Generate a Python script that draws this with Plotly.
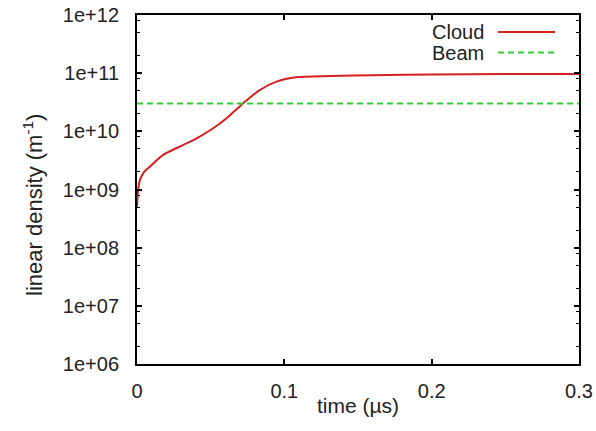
import plotly.graph_objects as go

# Electron cloud build-up: linear density versus time
time_us = [0.0, 0.0005, 0.001, 0.002, 0.0045, 0.0088, 0.0178, 0.029, 0.0405,
           0.0517, 0.0608, 0.0721, 0.0834, 0.0947, 0.108, 0.131, 0.16, 0.2, 0.25, 0.3]
cloud_density = [5.0e8, 8.0e8, 1.1e9, 1.46e9, 1.95e9, 2.48e9, 3.94e9, 5.47e9, 7.6e9,
                 1.13e10, 1.68e10, 3.04e10, 5.14e10, 7.14e10, 8.5e10, 8.95e10,
                 9.2e10, 9.5e10, 9.65e10, 9.7e10]

beam_time = [0.0, 0.3]
beam_density = [3.0e10, 3.0e10]

x_ticks = [0.0, 0.1, 0.2, 0.3]
x_ticktext = ["0", "0.1", "0.2", "0.3"]
y_ticks = [1e6, 1e7, 1e8, 1e9, 1e10, 1e11, 1e12]
y_ticktext = ["1e+06", "1e+07", "1e+08", "1e+09", "1e+10", "1e+11", "1e+12"]
y_minor = [m * 10 ** e for e in range(6, 12) for m in (2, 5, 8)]

legend_names = ["Cloud", "Beam"]

RED = "#d42020"
GREEN = "#33cc33"
FAMILY = "Liberation Sans, Arial, sans-serif"
FONT = dict(family=FAMILY, size=20, color="#222222")
XTITLE_FONT = dict(family=FAMILY, size=21, color="#222222")
YTITLE_FONT = dict(family=FAMILY, size=22, color="#222222")

W, H = 596, 431
L, R, T, B = 137, 17, 15, 67
pw, ph = W - L - R, H - T - B


def px_x(x):
    return (x - L) / pw


def px_y(y):
    return (H - B - y) / ph


fig = go.Figure()
fig.add_trace(go.Scatter(x=time_us, y=cloud_density, mode="lines", name=legend_names[0],
                         line=dict(color=RED, width=2, shape="spline", smoothing=0.8)))
fig.add_trace(go.Scatter(x=beam_time, y=beam_density, mode="lines", name=legend_names[1],
                         line=dict(color=GREEN, width=2, dash="6px,4px")))

# key drawn gnuplot-style: text on the left, line sample on the right
annotations = []
shapes = []
for i, (name, color, dash) in enumerate(zip(legend_names, [RED, GREEN], ["solid", "6px,4px"])):
    yy = 32 + i * 20.5
    annotations.append(dict(text=name, xref="paper", yref="paper", x=px_x(486), y=px_y(yy),
                            xanchor="right", yanchor="middle", showarrow=False, font=FONT))
    shapes.append(dict(type="line", xref="paper", yref="paper", x0=px_x(498), x1=px_x(555),
                       y0=px_y(yy), y1=px_y(yy), line=dict(color=color, width=2, dash=dash)))

# axis titles placed as annotations so the plot frame stays fixed
annotations.append(dict(text="time (µs)", xref="paper", yref="paper", x=0.5, y=px_y(405),
                        xanchor="center", yanchor="middle", showarrow=False, font=XTITLE_FONT))
annotations.append(dict(text="linear density (m<sup>-1</sup>)", xref="paper", yref="paper",
                        x=px_x(33), y=px_y(205), xanchor="center", yanchor="middle",
                        textangle=-90, showarrow=False, font=YTITLE_FONT))

fig.update_layout(
    width=W, height=H,
    margin=dict(l=L, r=R, t=T, b=B, autoexpand=False),
    paper_bgcolor="white", plot_bgcolor="white",
    showlegend=False,
    font=FONT,
    annotations=annotations,
    shapes=shapes,
    xaxis=dict(
        range=[0, 0.3], tickmode="array", tickvals=x_ticks, ticktext=x_ticktext,
        ticks="inside", ticklen=5, tickwidth=1.5, tickcolor="black",
        showline=True, linecolor="black", linewidth=2, mirror="allticks",
        showgrid=False, zeroline=False, ticklabelstandoff=8, automargin=False,
        tickfont=FONT,
    ),
    yaxis=dict(
        type="log", range=[6, 12], tickmode="array", tickvals=y_ticks, ticktext=y_ticktext,
        ticks="inside", ticklen=5, tickwidth=1.5, tickcolor="black",
        minor=dict(tickmode="array", tickvals=y_minor, ticks="inside", ticklen=3,
                   tickwidth=1.2, tickcolor="black", showgrid=False),
        showline=True, linecolor="black", linewidth=2, mirror="allticks",
        showgrid=False, zeroline=False, ticklabelstandoff=12, automargin=False,
        tickfont=FONT,
    ),
)

fig.write_html("out.html")
